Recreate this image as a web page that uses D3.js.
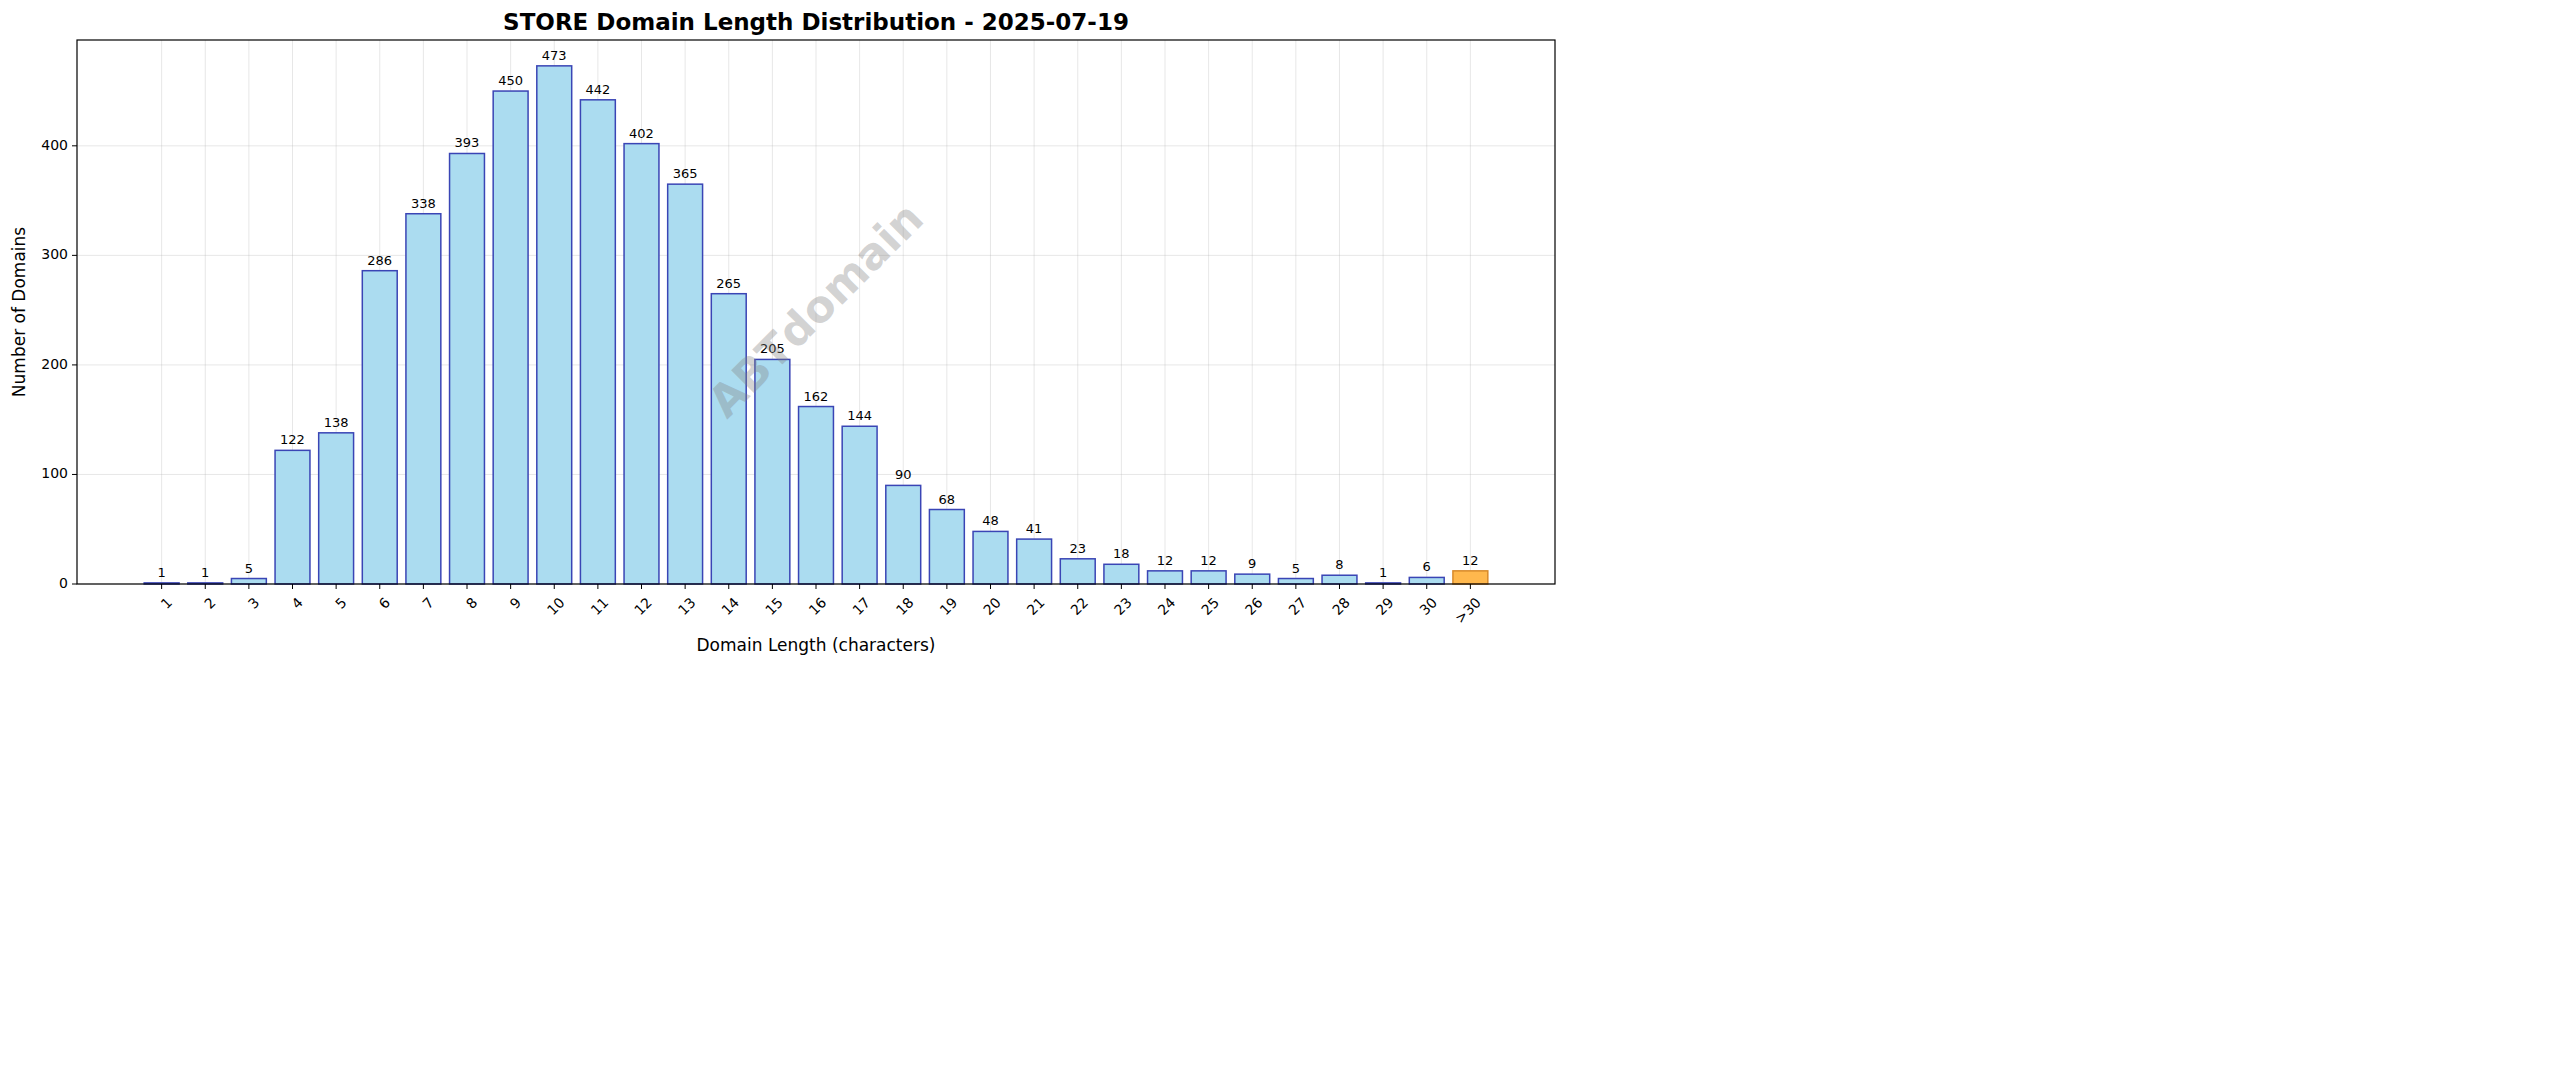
<!DOCTYPE html>
<html><head><meta charset="utf-8">
<script src="https://cdn.jsdelivr.net/npm/d3@7"></script>
<style>body{margin:0;background:#fff;font-family:"DejaVu Sans",sans-serif}</style>
</head><body>
<script>
// chart data
var categories = ["1","2","3","4","5","6","7","8","9","10","11","12","13","14","15","16","17","18","19","20","21","22","23","24","25","26","27","28","29","30",">30"];
var counts = [1,1,5,122,138,286,338,393,450,473,442,402,365,265,205,162,144,90,68,48,41,23,18,12,12,9,5,8,1,6,12];
var yTicks = [0,100,200,300,400];

var width = 2560, height = 1087;
var plotLeft = 77, plotRight = 1555, plotTop = 40, plotBottom = 584;

var svg = d3.select("body").append("svg")
    .attr("width", width).attr("height", height);

var x = d3.scaleLinear().domain([-1.94, 31.94]).range([plotLeft, plotRight]);
var y = d3.scaleLinear().domain([0, 496.6]).range([plotBottom, plotTop]);
var bw = x(0.8) - x(0);

//grid
svg.selectAll(".vg").data(categories).enter().append("line")
    .attr("x1", function(d, i){ return x(i); }).attr("x2", function(d, i){ return x(i); })
    .attr("y1", plotTop).attr("y2", plotBottom)
    .attr("stroke", "#b0b0b0").attr("stroke-opacity", 0.3);
svg.selectAll(".hg").data(yTicks).enter().append("line")
    .attr("x1", plotLeft).attr("x2", plotRight)
    .attr("y1", function(d){ return y(d); }).attr("y2", function(d){ return y(d); })
    .attr("stroke", "#b0b0b0").attr("stroke-opacity", 0.3);

//bars
svg.selectAll(".bar").data(counts).enter().append("rect")
    .attr("x", function(d, i){ return x(i) - bw / 2; })
    .attr("y", function(d){ return y(d); })
    .attr("width", bw)
    .attr("height", function(d){ return plotBottom - y(d); })
    .attr("fill", function(d, i){ return i == counts.length - 1 ? "#ffb84d" : "#abdcf0"; })
    .attr("stroke", function(d, i){ return i == counts.length - 1 ? "#d88a2a" : "#3a45b5"; })
    .attr("stroke-width", 1.5);

//value labels
svg.selectAll(".val").data(counts).enter().append("text")
    .attr("x", function(d, i){ return x(i); })
    .attr("y", function(d){ return y(d) - 6; })
    .attr("text-anchor", "middle").attr("font-size", 13)
    .text(function(d){ return d; });

//watermark
svg.append("text")
    .attr("transform", "translate(818,312) rotate(-45)")
    .attr("text-anchor", "middle").attr("dominant-baseline", "middle")
    .attr("font-size", 44).attr("font-weight", "bold")
    .attr("fill", "#808080").attr("fill-opacity", 0.35)
    .text("ABTdomain");

//frame
svg.append("rect").attr("x", plotLeft).attr("y", plotTop)
    .attr("width", plotRight - plotLeft).attr("height", plotBottom - plotTop)
    .attr("fill", "none").attr("stroke", "#000").attr("stroke-width", 1.2);

//y axis
svg.selectAll(".yt").data(yTicks).enter().append("line")
    .attr("x1", plotLeft - 5).attr("x2", plotLeft)
    .attr("y1", function(d){ return y(d); }).attr("y2", function(d){ return y(d); })
    .attr("stroke", "#000");
svg.selectAll(".yl").data(yTicks).enter().append("text")
    .attr("x", plotLeft - 9).attr("y", function(d){ return y(d); })
    .attr("text-anchor", "end").attr("dominant-baseline", "middle")
    .attr("font-size", 14).text(function(d){ return d; });

//x axis
svg.selectAll(".xt").data(categories).enter().append("line")
    .attr("x1", function(d, i){ return x(i); }).attr("x2", function(d, i){ return x(i); })
    .attr("y1", plotBottom).attr("y2", plotBottom + 5).attr("stroke", "#000");
svg.selectAll(".xl").data(categories).enter().append("text")
    .attr("transform", function(d, i){ return "translate(" + (x(i) + 4) + "," + (plotBottom + 12) + ") rotate(-45)"; })
    .attr("text-anchor", "end").attr("dominant-baseline", "hanging")
    .attr("font-size", 14).text(function(d){ return d; });

//labels
svg.append("text").attr("x", (plotLeft + plotRight) / 2).attr("y", 651)
    .attr("text-anchor", "middle").attr("font-size", 17)
    .text("Domain Length (characters)");
svg.append("text").attr("transform", "translate(25," + ((plotTop + plotBottom) / 2) + ") rotate(-90)")
    .attr("text-anchor", "middle").attr("font-size", 17)
    .text("Number of Domains");
svg.append("text").attr("x", (plotLeft + plotRight) / 2).attr("y", 30)
    .attr("text-anchor", "middle").attr("font-size", 23).attr("font-weight", "bold")
    .text("STORE Domain Length Distribution - 2025-07-19");
</script>
</body></html>
